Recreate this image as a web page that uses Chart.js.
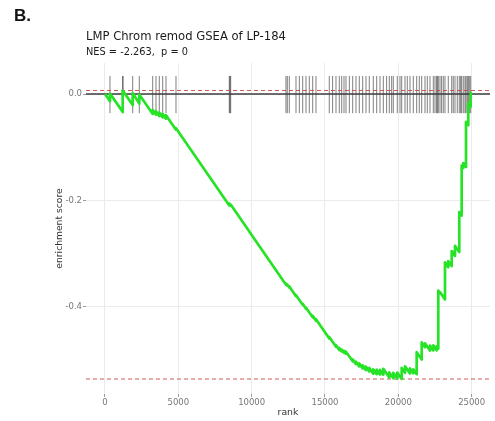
<!DOCTYPE html>
<html>
<head>
<meta charset="utf-8">
<script src="https://cdn.jsdelivr.net/npm/chart.js@4/dist/chart.umd.min.js"></script>
<style>
  html, body { margin: 0; padding: 0; background: #ffffff; }
  #wrap { position: relative; width: 495px; height: 421px; }
  #chart { position: absolute; left: 0; top: 0; }
  .txt { position: absolute; white-space: pre; line-height: 1; color: #1a1a1a; }
  #tag { left: 14px; top: 6px; font: bold 17px "Liberation Sans", Arial, sans-serif; color: #111; }
  #title { left: 86px; top: 29px; font: 11.6px "DejaVu Sans", sans-serif; }
  #subtitle { left: 86px; top: 46px; font: 9.8px "DejaVu Sans", sans-serif; }
</style>
</head>
<body>
<div id="wrap">
  <canvas id="chart" width="495" height="421"></canvas>
  <div class="txt" id="tag">B.</div>
  <div class="txt" id="title"></div>
  <div class="txt" id="subtitle"></div>
</div>
<script>
// ---- data ----
const panelLabel = 'B.';
const titleText = 'LMP Chrom remod GSEA of LP-184';
const subtitleText = 'NES = -2.263,  p = 0';

// ranks of gene-set members in the ranked list
const hitRanks = [
  341, 1207, 1230, 1889, 2339, 3252, 3477, 3702, 3934, 4159, 4841,
  8475, 8520, 8570,
  12340, 12429, 12566, 13022, 13250, 13479, 13704, 13930, 14161, 14386,
  15293, 15520, 15750, 15975, 16138, 16295, 16431, 16660,
  16888, 17113, 17338, 17570, 17795, 18020,
  18293, 18525, 18750, 18975, 19200, 19384, 19545, 19657, 19929, 20113, 20229,
  20454, 20610, 20795, 21020, 21252, 21430, 21593, 21818, 21975, 22159, 22384,
  22500, 22615, 22656, 22724, 22840, 22950, 23065,
  23181, 23406, 23638, 23745, 23863, 24020, 24156, 24250, 24319, 24429,
  24545, 24613, 24700, 24770, 24840, 24933
];

// running enrichment score: rank and score at each vertex
const curveRanks = [
  0,
  341, 341, 1207, 1207, 1889, 1889, 2339, 2339, 3252, 3252,
  3477, 3477, 3702, 3702, 3934, 3934, 4159, 4159, 4841, 4841,
  8475, 8475, 8570, 8570,
  12340, 12340, 12429, 12429, 12566, 12566, 13022, 13022,
  13479, 13479, 13704, 13704, 14161, 14161, 14386, 14386,
  15293, 15293, 15750, 15750, 15975, 15975, 16138, 16138,
  16295, 16295, 16431, 16431, 16888, 16888, 17113, 17113,
  17338, 17338, 17570, 17570, 17795, 17795, 18020, 18020,
  18293, 18293, 18525, 18525, 18750, 18750, 18975, 18975,
  19384, 19384, 19657, 19657, 19929, 19929, 20229, 20229,
  20454, 20454, 20795, 20795, 21020, 21020, 21252, 21252,
  21593, 21593, 21818, 21818, 22159, 22159, 22384, 22384,
  22615, 22615, 22724, 22724, 22840, 22840,
  23181, 23181, 23406, 23406, 23638, 23638, 23863, 23863,
  24156, 24156, 24319, 24319, 24429, 24429, 24613, 24613,
  24770, 24770, 24933, 24933,
  25000
];
const curveScores = [
  0,
  -0.0137, 0.0009, -0.0336, 0.0066, -0.0207, 0.0019, -0.0181, -0.0009, -0.0374, -0.0299,
  -0.0389, -0.0323, -0.0414, -0.0348, -0.0439, -0.0374, -0.0464, -0.0398, -0.0671, -0.0643,
  -0.2096, -0.2058, -0.2096, -0.2077,
  -0.3585, -0.3566, -0.3602, -0.3583, -0.3637, -0.3618, -0.3801, -0.3782,
  -0.3964, -0.3945, -0.4038, -0.4017, -0.4199, -0.4171, -0.4261, -0.4233,
  -0.4596, -0.4568, -0.4750, -0.4722, -0.4812, -0.4774, -0.4840, -0.4803,
  -0.4865, -0.4827, -0.4882, -0.4844, -0.5026, -0.4989, -0.5079, -0.5032,
  -0.5122, -0.5066, -0.5158, -0.5102, -0.5192, -0.5126, -0.5216, -0.5150,
  -0.5259, -0.5175, -0.5267, -0.5182, -0.5273, -0.5188, -0.5278, -0.5165,
  -0.5329, -0.5235, -0.5344, -0.5241, -0.5350, -0.5237, -0.5357, -0.5150,
  -0.5241, -0.5118, -0.5254, -0.5160, -0.5250, -0.5175, -0.5267, -0.4853,
  -0.4991, -0.4671, -0.4761, -0.4686, -0.4823, -0.4729, -0.4820, -0.4726,
  -0.4818, -0.4742, -0.4786, -0.3695, -0.3742, -0.3724,
  -0.3861, -0.3165, -0.3256, -0.3143, -0.3235, -0.2953, -0.3043, -0.2855,
  -0.2970, -0.2220, -0.2286, -0.1346, -0.1391, -0.1297, -0.1370, -0.0524,
  -0.0586, -0.0173, -0.0239, 0.0024,
  0
];

const xTickValues = [0, 5000, 10000, 15000, 20000, 25000];
const yTickValues = [0, -0.2, -0.4];

// ---- layout / style ----
const X_MIN = -1295, X_MAX = 26250;
const Y_MIN = -0.564, Y_MAX = 0.0583;
const BAR_TOP = 0.034, BAR_BOTTOM = -0.036;   // vertical extent of the hit barcode
const FONT = '"DejaVu Sans", sans-serif';

document.getElementById('tag').textContent = panelLabel;
document.getElementById('title').textContent = titleText;
document.getElementById('subtitle').textContent = subtitleText;

const esMax = Math.max(...curveScores);
const esMin = Math.min(...curveScores);

const curvePoints = curveRanks.map((r, i) => ({ x: r, y: curveScores[i] }));
const barcodePoints = [];
hitRanks.forEach(r => {
  barcodePoints.push({ x: r, y: BAR_BOTTOM }, { x: r, y: BAR_TOP }, { x: r, y: null });
});
const hline = v => [{ x: X_MIN, y: v }, { x: X_MAX, y: v }];

const lineBase = { pointRadius: 0, pointHoverRadius: 0, fill: false, tension: 0 };

new Chart(document.getElementById('chart'), {
  type: 'line',
  data: {
    datasets: [
      Object.assign({ label: 'running ES', data: curvePoints,
        borderColor: '#27e327', borderWidth: 2.7, borderJoinStyle: 'round' }, lineBase),
      Object.assign({ label: 'max ES', data: hline(esMax),
        borderColor: 'rgba(205,70,70,0.9)', borderWidth: 1.1, borderDash: [4, 3] }, lineBase),
      Object.assign({ label: 'min ES', data: hline(esMin),
        borderColor: 'rgba(205,70,70,0.9)', borderWidth: 1.1, borderDash: [4, 3] }, lineBase),
      Object.assign({ label: 'zero', data: hline(0),
        borderColor: '#3c3c3c', borderWidth: 1.3 }, lineBase),
      Object.assign({ label: 'hits', data: barcodePoints, spanGaps: false,
        borderColor: 'rgba(0,0,0,0.5)', borderWidth: 1 }, lineBase)
    ]
  },
  options: {
    responsive: false,
    animation: false,
    events: [],
    layout: { padding: { top: 63, left: 50, right: 5, bottom: 0 } },
    plugins: { legend: { display: false }, tooltip: { enabled: false }, title: { display: false } },
    scales: {
      x: {
        type: 'linear',
        min: X_MIN,
        max: X_MAX,
        afterBuildTicks: s => { s.ticks = xTickValues.map(v => ({ value: v })); },
        afterFit: s => { s.height = 27; },
        border: { display: false },
        grid: { color: '#ebebeb', lineWidth: 1, drawTicks: true, tickLength: 3, tickColor: '#9a9a9a' },
        ticks: { font: { family: FONT, size: 8.5 }, color: '#777777', padding: 1,
          maxRotation: 0, autoSkip: false, callback: v => String(v) },
        title: { display: true, text: 'rank', color: '#333333',
          font: { family: FONT, size: 9.3 }, padding: { top: 0, bottom: 2.6 } }
      },
      y: {
        type: 'linear',
        min: Y_MIN,
        max: Y_MAX,
        afterBuildTicks: s => { s.ticks = yTickValues.map(v => ({ value: v })); },
        afterFit: s => { s.width = 36; },
        border: { display: false },
        grid: { color: '#ebebeb', lineWidth: 1, drawTicks: true, tickLength: 3, tickColor: '#9a9a9a' },
        ticks: { font: { family: FONT, size: 8.5 }, color: '#777777', padding: 1,
          autoSkip: false, callback: v => Number(v).toFixed(1) },
        title: { display: true, text: 'enrichment score', color: '#333333',
          font: { family: FONT, size: 9.2 }, padding: { top: 4.3, bottom: 0 } }
      }
    }
  }
});
</script>
</body>
</html>
